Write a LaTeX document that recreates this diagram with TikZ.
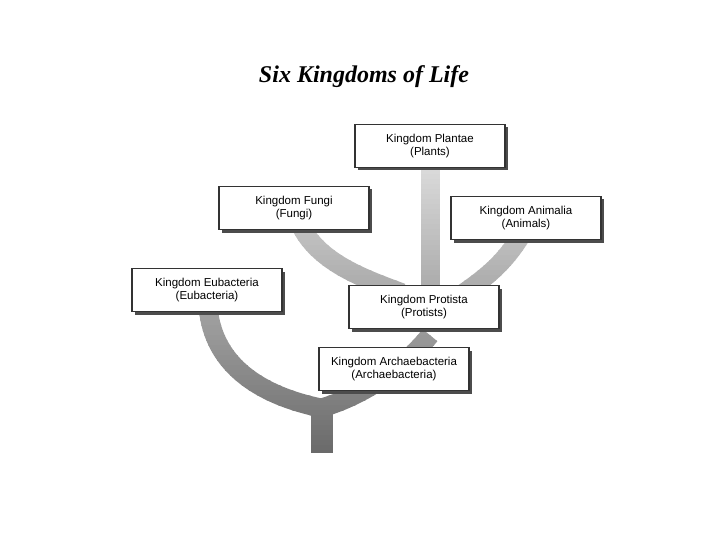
\documentclass[tikz,border=0pt]{standalone}
\usepackage{fontspec}
\setmainfont{Liberation Serif}
\newfontfamily\boxfont{Liberation Sans}
\usetikzlibrary{shadows}
\pgfdeclarelayer{background}
\pgfsetlayers{background,main}
\tikzset{
  kbox/.style={draw=black!80, line width=1.4pt, fill=white, minimum width=150pt, minimum height=43pt,
    inner sep=2pt, align=center, font=\boxfont\fontsize{11.5}{12.5}\selectfont,
    drop shadow={shadow xshift=3pt, shadow yshift=-3pt, fill=black!70, opacity=1}},
  branch/.style={line width=19pt, line cap=butt, line join=round},
  trunkst/.style={line width=22pt, line cap=butt},
  titlest/.style={font=\bfseries\itshape\fontsize{24}{28}\selectfont}
}
\begin{document}
\begin{tikzpicture}[x=1pt,y=-1pt]
\useasboundingbox (0,0) rectangle (720,540);
\node[titlest] (title) at (364,77) {Six Kingdoms of Life};
\node[kbox] (pla) at (430,146) {Kingdom Plantae\\(Plants)};
\node[kbox] (fun) at (294,208) {Kingdom Fungi\\(Fungi)};
\node[kbox] (ani) at (526,218) {Kingdom Animalia\\(Animals)};
\node[kbox] (eub) at (207,290) {Kingdom Eubacteria\\(Eubacteria)};
\node[kbox] (pro) at (424,307) {Kingdom Protista\\(Protists)};
\node[kbox] (arc) at (394,369) {Kingdom Archaebacteria\\(Archaebacteria)};
\coordinate (join) at (322,408);
\coordinate (root) at (322,453);
\begin{pgfonlayer}{background}
\foreach \k in {0,...,59} {
  \pgfmathsetmacro\ya{160+5*\k}
  \pgfmathsetmacro\yb{\ya+5.6}
  \pgfmathsetmacro\g{(218-(\ya+2.5-169)*0.3944)/255}
  \definecolor{bandc}{gray}{\g}
  \begin{scope}
    \clip (0,\ya) rectangle (720,\yb);
    \draw[branch, draw=bandc] ([xshift=1pt,yshift=6pt]eub.south) .. controls (213,370) and (268,398) .. ([xshift=4pt,yshift=-1pt]join);
    \draw[branch, draw=bandc] ([xshift=-4pt,yshift=-1pt]join) .. controls (372,394) and (410,360) .. ([xshift=6pt,yshift=-6pt]pro.south);
    \draw[branch, draw=bandc] ([xshift=6pt,yshift=6pt]fun.south) .. controls (318,262) and (362,278) .. ([xshift=-22pt,yshift=-8pt]pro.north);
    \draw[branch, draw=bandc] (pla.south) -- (pla.south |- pro.north);
    \draw[branch, draw=bandc] ([xshift=-4pt,yshift=6pt]ani.south) .. controls (505,262) and (488,276) .. ([xshift=40pt,yshift=-8pt]pro.north);
    \draw[trunkst, draw=bandc] ([yshift=5pt]join) -- (root);
  \end{scope}
}
\end{pgfonlayer}
\end{tikzpicture}
\end{document}
